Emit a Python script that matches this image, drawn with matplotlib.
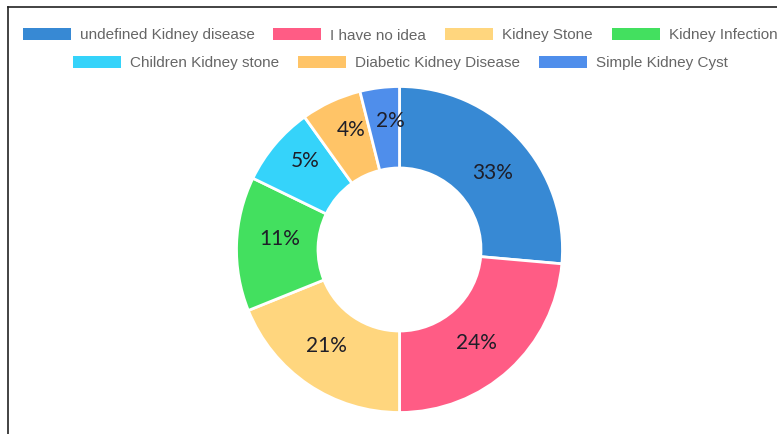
import numpy as np
import matplotlib
matplotlib.use("Agg")
import matplotlib.pyplot as plt
from matplotlib.patches import Rectangle
from matplotlib.lines import Line2D

# ---- data ----
categories = ["undefined Kidney disease", "I have no idea", "Kidney Stone",
              "Kidney Infection", "Children Kidney stone", "Diabetic Kidney Disease",
              "Simple Kidney Cyst"]
slice_values = [26.4, 23.6, 18.9, 13.3, 7.9, 6.0, 3.9]
slice_labels = ["33%", "24%", "21%", "11%", "5%", "4%", "2%"]
colors = ["#3789D4", "#FF5C85", "#FFD67E", "#43E05F", "#35D3FA", "#FFC467", "#4F8EEB"]

W, H = 777, 434
fig = plt.figure(figsize=(W / 100, H / 100), dpi=100)
fig.patch.set_facecolor("white")

# frame lines (top and left)
fig.add_artist(Line2D([8 / W, 1.0], [1 - 7 / H, 1 - 7 / H], color="#222222", lw=1.2))
fig.add_artist(Line2D([8 / W, 8 / W], [0, 1 - 7 / H], color="#222222", lw=1.2))

# ---- doughnut ----
cx, cy, R = 399.5, 249.5, 163.0
ax = fig.add_axes([(cx - R) / W, (H - cy - R) / H, 2 * R / W, 2 * R / H])
wedges, _ = ax.pie(slice_values, colors=colors, startangle=90, counterclock=False,
                   radius=1.0, wedgeprops=dict(width=0.5, edgecolor="white", linewidth=2))
ax.set_xlim(-1, 1)
ax.set_ylim(-1, 1)
ax.set_aspect("equal")
ax.axis("off")

for w, lab in zip(wedges, slice_labels):
    mid = np.deg2rad((w.theta1 + w.theta2) / 2 - 3)
    span = w.theta2 - w.theta1
    r = 0.74 if span > 40 else 0.79
    ax.text(r * np.cos(mid), r * np.sin(mid), lab, ha="center", va="center",
            fontsize=15, family="Lato", color="#1e1e28")

# ---- legend (chart.js style, centered rows) ----
box_w, box_h, gap_txt, gap_item = 48, 12, 9, 19
fs = 11
fig.canvas.draw()
renderer = fig.canvas.get_renderer()

def text_width(s):
    t = fig.text(0, 0, s, fontsize=fs, family="Liberation Sans")
    bb = t.get_window_extent(renderer=renderer)
    t.remove()
    return bb.width

items = [(c, col, text_width(c)) for c, col in zip(categories, colors)]
rows, cur, cur_w = [], [], 0
max_w = 775
for it in items:
    iw = box_w + gap_txt + it[2]
    add = iw if not cur else gap_item + iw
    if cur and cur_w + add > max_w:
        rows.append(cur)
        cur, cur_w = [it], iw
    else:
        cur.append(it)
        cur_w += add
rows.append(cur)

row_y = [34, 62]
for ri, row in enumerate(rows):
    total = sum(box_w + gap_txt + tw for _, _, tw in row) + gap_item * (len(row) - 1)
    x = 400 - total / 2
    y = row_y[ri]
    for name, col, tw in row:
        fig.add_artist(Rectangle((x / W, (H - y - box_h / 2) / H), box_w / W, box_h / H,
                                 transform=fig.transFigure, facecolor=col, edgecolor="none"))
        fig.text((x + box_w + gap_txt) / W, (H - y) / H, name, fontsize=fs,
                 family="Liberation Sans", color="#666666", ha="left", va="center_baseline")
        x += box_w + gap_txt + tw + gap_item

fig.savefig("out.png", dpi=100)
